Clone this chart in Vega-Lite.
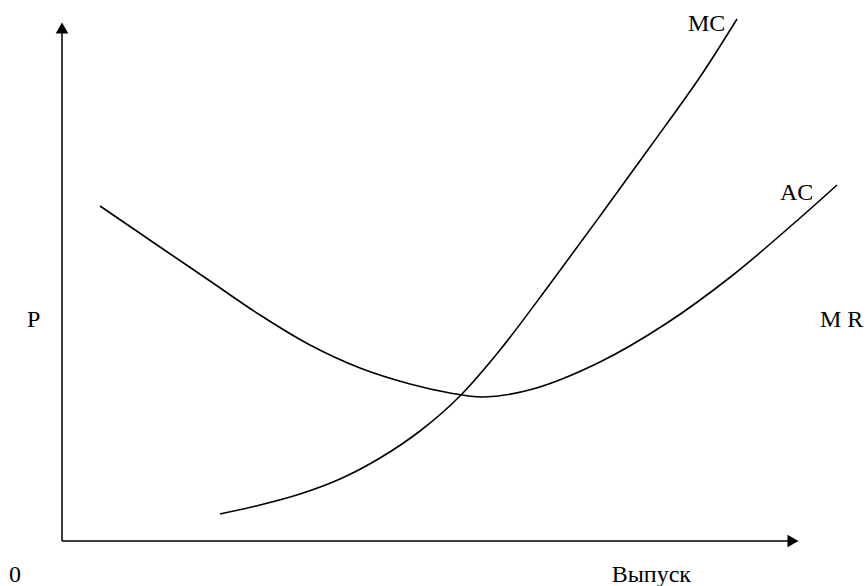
{
  "$schema": "https://vega.github.io/schema/vega-lite/v6.json",
  "width": 867,
  "height": 586,
  "padding": 0,
  "autosize": {"type": "none"},
  "background": "white",
  "config": {"view": {"stroke": null}},
  "datasets": {
    "curves": [
      {"curve": "AC", "q": 100, "p": 206},
      {"curve": "AC", "q": 160, "p": 247},
      {"curve": "AC", "q": 210, "p": 281},
      {"curve": "AC", "q": 260, "p": 315},
      {"curve": "AC", "q": 310, "p": 345},
      {"curve": "AC", "q": 360, "p": 368},
      {"curve": "AC", "q": 410, "p": 384},
      {"curve": "AC", "q": 450, "p": 393},
      {"curve": "AC", "q": 483, "p": 397},
      {"curve": "AC", "q": 533, "p": 389},
      {"curve": "AC", "q": 600, "p": 362},
      {"curve": "AC", "q": 667, "p": 323},
      {"curve": "AC", "q": 733, "p": 275},
      {"curve": "AC", "q": 800, "p": 218},
      {"curve": "AC", "q": 837, "p": 185},
      {"curve": "MC", "q": 220, "p": 514},
      {"curve": "MC", "q": 260, "p": 505},
      {"curve": "MC", "q": 300, "p": 494},
      {"curve": "MC", "q": 340, "p": 479},
      {"curve": "MC", "q": 380, "p": 458},
      {"curve": "MC", "q": 420, "p": 431},
      {"curve": "MC", "q": 459, "p": 397},
      {"curve": "MC", "q": 500, "p": 350},
      {"curve": "MC", "q": 550, "p": 284},
      {"curve": "MC", "q": 600, "p": 216},
      {"curve": "MC", "q": 650, "p": 147},
      {"curve": "MC", "q": 700, "p": 77},
      {"curve": "MC", "q": 737, "p": 19}
    ],
    "axes": [
      {"axis": "P", "x1": 62, "y1": 541, "x2": 62, "y2": 32},
      {"axis": "Q", "x1": 62, "y1": 541, "x2": 790, "y2": 541}
    ],
    "arrows": [
      {"axis": "P", "x": 62, "y": 28, "shape": "triangle-up"},
      {"axis": "Q", "x": 793, "y": 541, "shape": "triangle-right"}
    ],
    "labels": [
      {"text": "MC", "x": 688, "y": 31, "align": "left"},
      {"text": "AC", "x": 780, "y": 200, "align": "left"},
      {"text": "P", "x": 27, "y": 327, "align": "left"},
      {"text": "M R", "x": 820, "y": 327, "align": "left"},
      {"text": "0", "x": 9, "y": 582, "align": "left"},
      {"text": "Выпуск", "x": 691, "y": 582, "align": "right"}
    ]
  },
  "layer": [
    {
      "data": {"name": "axes"},
      "mark": {"type": "rule", "color": "black", "strokeWidth": 1.5},
      "encoding": {
        "x": {"field": "x1", "type": "quantitative", "scale": {"domain": [0, 867], "nice": false, "zero": false}, "axis": null},
        "y": {"field": "y1", "type": "quantitative", "scale": {"domain": [0, 586], "reverse": true, "nice": false, "zero": false}, "axis": null},
        "x2": {"field": "x2"},
        "y2": {"field": "y2"}
      }
    },
    {
      "data": {"name": "arrows"},
      "mark": {"type": "point", "filled": true, "color": "black", "size": 160, "opacity": 1},
      "encoding": {
        "x": {"field": "x", "type": "quantitative"},
        "y": {"field": "y", "type": "quantitative"},
        "shape": {"field": "shape", "type": "nominal", "scale": null, "legend": null}
      }
    },
    {
      "data": {"name": "curves"},
      "mark": {"type": "line", "color": "black", "strokeWidth": 1.6, "interpolate": "catmull-rom"},
      "encoding": {
        "x": {"field": "q", "type": "quantitative"},
        "y": {"field": "p", "type": "quantitative"},
        "detail": {"field": "curve", "type": "nominal"}
      }
    },
    {
      "data": {"name": "labels"},
      "transform": [{"filter": "datum.align == 'left'"}],
      "mark": {"type": "text", "font": "Liberation Serif", "fontSize": 24, "color": "black", "align": "left", "baseline": "alphabetic"},
      "encoding": {
        "x": {"field": "x", "type": "quantitative"},
        "y": {"field": "y", "type": "quantitative"},
        "text": {"field": "text"}
      }
    },
    {
      "data": {"name": "labels"},
      "transform": [{"filter": "datum.align == 'right'"}],
      "mark": {"type": "text", "font": "Liberation Serif", "fontSize": 24, "color": "black", "align": "right", "baseline": "alphabetic"},
      "encoding": {
        "x": {"field": "x", "type": "quantitative"},
        "y": {"field": "y", "type": "quantitative"},
        "text": {"field": "text"}
      }
    }
  ]
}
